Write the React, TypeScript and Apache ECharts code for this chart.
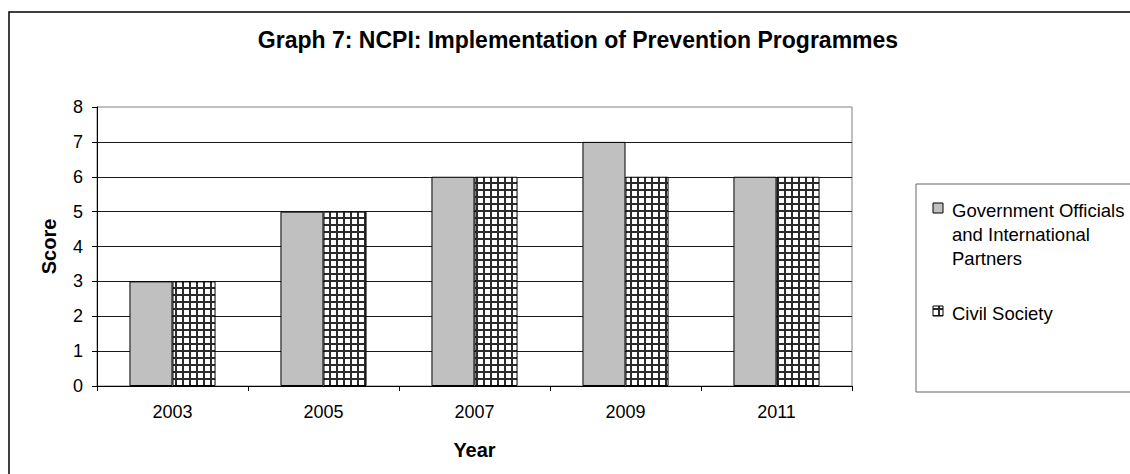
import React, { useEffect, useRef } from "react";
import * as echarts from "echarts";

const chartTitle = "Graph 7: NCPI: Implementation of Prevention Programmes";
const categories = ["2003", "2005", "2007", "2009", "2011"];
const governmentScores = [3, 5, 6, 7, 6];
const civilSocietyScores = [3, 5, 6, 6, 6];
const seriesNames = [
  "Government Officials and International Partners",
  "Civil Society",
];
const legendLines = [
  ["Government Officials", "and International", "Partners"],
  ["Civil Society"],
];
const xAxisName = "Year";
const yAxisName = "Score";

const FONT = "'Liberation Sans', Arial, Helvetica, sans-serif";

function makeGridPattern(): HTMLCanvasElement {
  const c = document.createElement("canvas");
  c.width = 7;
  c.height = 7;
  const ctx = c.getContext("2d")!;
  ctx.fillStyle = "#ffffff";
  ctx.fillRect(0, 0, 7, 7);
  ctx.fillStyle = "#2b2b2b";
  ctx.fillRect(0, 0, 2, 7);
  ctx.fillRect(0, 0, 7, 2);
  return c;
}

export default function App() {
  const ref = useRef<HTMLDivElement>(null);

  useEffect(() => {
    if (!ref.current) return;
    const chart = echarts.init(ref.current, null, { renderer: "svg" });
    const pattern = { image: makeGridPattern(), repeat: "repeat" as const };
    const fills = ["#c0c0c0", pattern];

    const legendItems: any[] = [];
    const legendTops = [198, 301];
    legendLines.forEach((lines, i) => {
      legendItems.push({
        type: "rect",
        shape: { x: 933, y: legendTops[i] + 5, width: 10, height: 10 },
        style: { fill: fills[i] as any, stroke: "#000", lineWidth: 1 },
        z: 10,
      });
      legendItems.push({
        type: "text",
        x: 952,
        y: legendTops[i],
        style: {
          text: lines.join("\n"),
          fill: "#000",
          fontSize: 18.5,
          fontFamily: FONT,
          lineHeight: 24,
          align: "left",
          verticalAlign: "top",
        },
        z: 10,
      });
    });

    chart.setOption({
      animation: false,
      backgroundColor: "#ffffff",
      textStyle: { fontFamily: FONT },
      graphic: [
        {
          type: "rect",
          shape: { x: 9, y: 12, width: 1200, height: 520 },
          style: { fill: "none", stroke: "#000", lineWidth: 1.5 },
          z: 10,
        },
        {
          type: "text",
          x: 578,
          y: 40,
          style: {
            text: chartTitle,
            fill: "#000",
            fontSize: 23,
            fontWeight: "bold",
            fontFamily: FONT,
            align: "center",
            verticalAlign: "middle",
          },
          z: 10,
        },
        {
          type: "rect",
          shape: { x: 916, y: 184, width: 300, height: 208 },
          style: { fill: "#fff", stroke: "#666", lineWidth: 1 },
          z: 9,
        },
        ...legendItems,
      ],
      grid: {
        left: 97,
        right: 278,
        top: 107,
        bottom: 88,
        containLabel: false,
        show: true,
        borderColor: "#808080",
        borderWidth: 1,
        backgroundColor: "transparent",
      },
      xAxis: {
        type: "category",
        data: categories,
        boundaryGap: true,
        axisLine: { show: true, lineStyle: { color: "#000", width: 1 } },
        axisTick: {
          show: true,
          alignWithLabel: false,
          length: 5,
          lineStyle: { color: "#000" },
        },
        axisLabel: { color: "#000", fontSize: 18, margin: 17, fontFamily: FONT },
        splitLine: { show: false },
        name: xAxisName,
        nameLocation: "middle",
        nameGap: 54,
        nameTextStyle: {
          color: "#000",
          fontSize: 20,
          fontWeight: "bold",
          fontFamily: FONT,
        },
      },
      yAxis: {
        type: "value",
        min: 0,
        max: 8,
        interval: 1,
        axisLine: { show: true, lineStyle: { color: "#000", width: 1 } },
        axisTick: { show: true, length: 5, lineStyle: { color: "#000" } },
        axisLabel: { color: "#000", fontSize: 18, margin: 14, fontFamily: FONT },
        splitLine: {
          show: true,
          showMaxLine: false,
          lineStyle: { color: "#1a1a1a", width: 1 },
        },
        name: yAxisName,
        nameLocation: "middle",
        nameGap: 38,
        nameTextStyle: {
          color: "#000",
          fontSize: 20,
          fontWeight: "bold",
          fontFamily: FONT,
        },
      },
      series: [
        {
          type: "bar",
          name: seriesNames[0],
          data: governmentScores,
          barGap: "0%",
          barCategoryGap: "43%",
          itemStyle: { color: "#c0c0c0", borderColor: "#000", borderWidth: 1 },
        },
        {
          type: "bar",
          name: seriesNames[1],
          data: civilSocietyScores,
          barGap: "0%",
          barCategoryGap: "43%",
          itemStyle: { color: pattern as any, borderColor: "#000", borderWidth: 1 },
        },
      ],
    });

    return () => {
      chart.dispose();
    };
  }, []);

  return (
    <div
      ref={ref}
      style={{ position: "fixed", left: 0, top: 0, width: 1130, height: 474 }}
    />
  );
}
